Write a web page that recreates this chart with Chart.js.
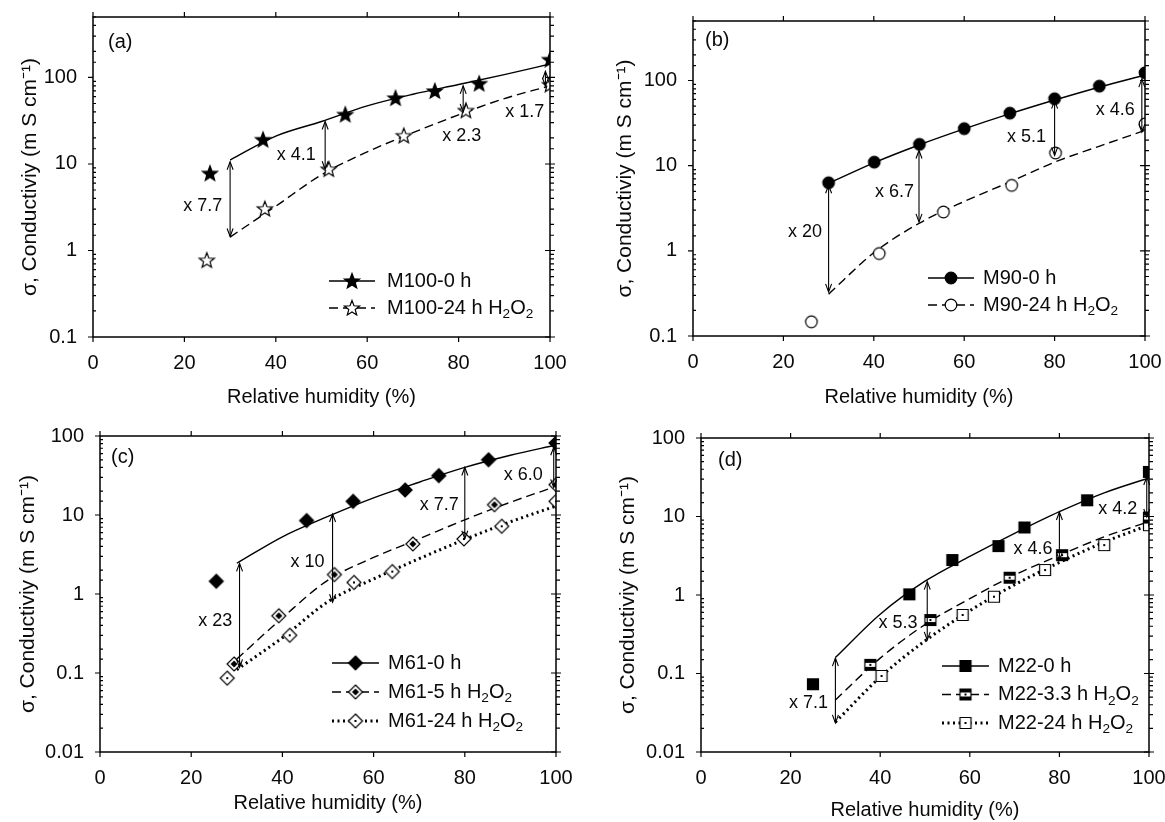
<!DOCTYPE html>
<html>
<head>
<meta charset="utf-8">
<script src="https://cdn.jsdelivr.net/npm/chart.js@4.4.0/dist/chart.umd.min.js"></script>
<style>
  body { margin: 0; background: #fff; width: 1165px; height: 822px; position: relative; overflow: hidden; }
  canvas { position: absolute; }
</style>
</head>
<body>
<canvas id="ca" width="582" height="411" style="left:0;top:0"></canvas>
<canvas id="cb" width="583" height="411" style="left:582px;top:0"></canvas>
<canvas id="cc" width="582" height="411" style="left:0;top:411px"></canvas>
<canvas id="cd" width="583" height="411" style="left:582px;top:411px"></canvas>
<script>
const FONT = '"Liberation Sans", Arial, sans-serif';
Chart.defaults.font.family = FONT;
Chart.defaults.color = '#0a0a0a';

// fitted curves are sampled at these humidities
const fitRH = [30, 40, 50, 60, 70, 80, 90, 100];

// ---- panel (a) ----
const labelsA = ['M100-0 h', 'M100-24 h H₂O₂'];
const rhA0 = [25.6, 37.2, 55.2, 66.2, 74.8, 84.5, 100];
const sigA0 = [7.8, 19.1, 37.3, 57.8, 69.7, 84.9, 161];
const rhA24 = [24.9, 37.6, 51.6, 68.0, 81.6, 100];
const sigA24 = [0.77, 3.03, 8.7, 21.2, 41.5, 82.6];
const fitA0 = [11.1, 21, 31, 47, 64, 83, 108, 143];
const fitA24 = [1.43, 3.25, 7.5, 13.8, 23, 37, 57, 80];
const arrowXA = [30, 50.8, 81, 99];
const arrowTopA = [10.6, 31, 80, 118];
const arrowBotA = [1.45, 8.7, 40, 80];
const ratioA = ['x 7.7', 'x 4.1', 'x 2.3', 'x 1.7'];
const ratioXA = [24.0, 44.5, 80.7, 94.5];
const ratioYA = [3.25, 12.6, 21.2, 39.7];

// ---- panel (b) ----
const labelsB = ['M90-0 h', 'M90-24 h H₂O₂'];
const rhB0 = [30, 40.1, 50.1, 60, 70.1, 80, 89.9, 100];
const sigB0 = [6.3, 11.0, 17.8, 27.2, 41.4, 61, 85.9, 123];
const rhB24 = [26.2, 41.2, 55.4, 70.5, 80.2, 100];
const sigB24 = [0.147, 0.93, 2.86, 5.88, 14.1, 31];
const fitB0 = [6.2, 10.8, 17.5, 27, 40.5, 59, 84, 116];
const fitB24 = [0.31, 0.95, 2.1, 3.8, 6.4, 11, 17, 26];
const arrowXB = [30, 50, 80, 99.3];
const arrowTopB = [5.9, 15.1, 58, 104];
const arrowBotB = [0.33, 2.19, 13.2, 24.8];
const ratioB = ['x 20', 'x 6.7', 'x 5.1', 'x 4.6'];
const ratioXB = [24.8, 44.6, 73.8, 93.4];
const ratioYB = [1.67, 4.9, 21.7, 44.5];

// ---- panel (c) ----
const labelsC = ['M61-0 h', 'M61-5 h H₂O₂', 'M61-24 h H₂O₂'];
const rhC0 = [25.5, 45.3, 55.5, 66.9, 74.3, 85.2, 100];
const sigC0 = [1.45, 8.5, 14.9, 20.7, 31.5, 50, 81.5];
const rhC5 = [29.4, 39.2, 51.4, 68.6, 86.5, 100];
const sigC5 = [0.13, 0.53, 1.76, 4.3, 13.5, 24.2];
const rhC24 = [27.9, 41.6, 55.7, 64.1, 79.8, 88.1, 100];
const sigC24 = [0.086, 0.30, 1.4, 1.92, 4.97, 7.2, 14.9];
const fitC0 = [2.45, 5.3, 9.6, 16.5, 26, 40, 57, 77];
const fitC5 = [0.15, 0.5, 1.5, 2.9, 5.0, 8.7, 14.5, 23];
const fitC24 = [0.11, 0.28, 0.8, 1.55, 2.8, 4.9, 8.2, 13];
const arrowXC = [30.6, 51, 80, 99.5];
const arrowTopC = [2.44, 10.3, 40, 72];
const arrowBotC = [0.118, 0.785, 5.0, 22.4];
const ratioC = ['x 23', 'x 10', 'x 7.7', 'x 6.0'];
const ratioXC = [25.3, 45.5, 74.4, 92.8];
const ratioYC = [0.46, 2.52, 13.4, 32];

// ---- panel (d) ----
const labelsD = ['M22-0 h', 'M22-3.3 h H₂O₂', 'M22-24 h H₂O₂'];
const rhD0 = [25.0, 46.5, 56.1, 66.4, 72.2, 86.2, 100];
const sigD0 = [0.073, 1.02, 2.79, 4.2, 7.25, 16.1, 37];
const rhD3 = [37.8, 51.2, 68.9, 80.6, 100];
const sigD3 = [0.129, 0.48, 1.66, 3.22, 9.7];
const rhD24 = [40.3, 58.4, 65.4, 76.8, 90.0, 100];
const sigD24 = [0.093, 0.557, 0.95, 2.08, 4.32, 7.76];
const fitD0 = [0.16, 0.57, 1.5, 3.1, 6.1, 11.5, 20, 31];
const fitD3 = [0.046, 0.157, 0.42, 0.9, 1.8, 3.2, 5.5, 8.6];
const fitD24 = [0.024, 0.09, 0.26, 0.63, 1.35, 2.6, 4.7, 7.8];
const arrowXD = [30, 50.5, 80, 99.5];
const arrowTopD = [0.157, 1.48, 11.4, 31.8];
const arrowBotD = [0.0235, 0.268, 2.78, 9.87];
const ratioD = ['x 7.1', 'x 5.3', 'x 4.6', 'x 4.2'];
const ratioXD = [24, 44, 74.1, 93];
const ratioYD = [0.042, 0.445, 3.9, 12.6];

// marker sprites
function marker(kind) {
  const c = document.createElement('canvas');
  c.width = c.height = 20;
  const g = c.getContext('2d');
  g.strokeStyle = '#000';
  g.lineWidth = 1.2;
  g.beginPath();
  if (kind.startsWith('star')) {
    for (let i = 0; i < 10; i++) {
      const r = i % 2 ? 3.4 : 8;
      const a = -Math.PI / 2 + i * Math.PI / 5;
      g.lineTo(10 + r * Math.cos(a), 10.5 + r * Math.sin(a));
    }
    g.closePath();
  } else if (kind.startsWith('circle')) {
    g.arc(10, 10, 5.8, 0, Math.PI * 2);
  } else if (kind.startsWith('diamond')) {
    g.moveTo(10, 3); g.lineTo(17, 10); g.lineTo(10, 17); g.lineTo(3, 10); g.closePath();
  } else {
    g.rect(4.5, 4.5, 11, 11);
  }
  g.fillStyle = kind.endsWith('Fill') ? '#000' : '#fff';
  g.fill();
  g.stroke();
  g.fillStyle = '#000';
  if (kind === 'diamondHalf') {
    g.beginPath(); g.moveTo(10, 6.5); g.lineTo(13.5, 10); g.lineTo(10, 13.5); g.lineTo(6.5, 10); g.closePath(); g.fill();
  } else if (kind === 'squareHalf') {
    g.fillRect(4.5, 4.5, 11, 3.5); g.fillRect(4.5, 12, 11, 3.5); g.fillRect(9, 9, 2, 2);
  } else if (kind === 'diamondOpen' || kind === 'squareOpen') {
    g.fillRect(9, 9, 2, 2);
  }
  return c;
}

const SOLID = [], DASH = [9, 5], DOT = [2, 3.5];

function richText(ctx, s, x, y, size) {
  let cx = x;
  for (const part of s.split(/(₂)/)) {
    if (!part) continue;
    if (part === '₂') {
      ctx.font = (size * 0.68) + 'px ' + FONT;
      ctx.fillText('2', cx, y + size * 0.32);
      cx += ctx.measureText('2').width;
    } else {
      ctx.font = size + 'px ' + FONT;
      ctx.fillText(part, cx, y);
      cx += ctx.measureText(part).width;
    }
  }
}

function drawArrowHead(ctx, x, y, dir) {
  ctx.beginPath();
  ctx.moveTo(x - 3, y + dir * 8);
  ctx.lineTo(x, y);
  ctx.lineTo(x + 3, y + dir * 8);
  ctx.stroke();
}

const decoPlugin = {
  id: 'deco',
  afterDraw(chart) {
    const d = chart.options.plugins.deco;
    const ctx = chart.ctx;
    const xs = chart.scales.x, ys = chart.scales.y;
    const a = chart.chartArea;
    ctx.save();
    ctx.strokeStyle = '#000';
    ctx.fillStyle = '#0a0a0a';

    // frame and tick marks
    ctx.lineWidth = 1.5;
    ctx.strokeRect(a.left, a.top, a.right - a.left, a.bottom - a.top);
    ctx.lineWidth = 1.2;
    ctx.beginPath();
    for (const t of xs.ticks) {
      const px = xs.getPixelForValue(t.value);
      ctx.moveTo(px, a.bottom); ctx.lineTo(px, a.bottom + 5);
      ctx.moveTo(px, a.top); ctx.lineTo(px, a.top - 5);
    }
    for (const t of ys.ticks) {
      const py = ys.getPixelForValue(t.value);
      const lg = Math.log10(t.value);
      if (Math.abs(lg - Math.round(lg)) < 1e-6) {
        ctx.moveTo(a.left - 5, py); ctx.lineTo(a.left, py);
        ctx.moveTo(a.right - 5, py); ctx.lineTo(a.right + 5, py);
      } else {
        ctx.moveTo(a.left, py); ctx.lineTo(a.left + 3, py);
        ctx.moveTo(a.right, py); ctx.lineTo(a.right + 4, py);
      }
    }
    ctx.stroke();

    // ratio arrows
    ctx.lineWidth = 1.1;
    d.arrowX.forEach((v, i) => {
      const px = xs.getPixelForValue(v);
      const pt = ys.getPixelForValue(d.arrowTop[i]);
      const pb = ys.getPixelForValue(d.arrowBot[i]);
      ctx.beginPath(); ctx.moveTo(px, pt); ctx.lineTo(px, pb); ctx.stroke();
      drawArrowHead(ctx, px, pt, 1);
      drawArrowHead(ctx, px, pb, -1);
    });
    ctx.font = '18px ' + FONT;
    ctx.textAlign = 'center';
    ctx.textBaseline = 'middle';
    d.ratio.forEach((s, i) => {
      ctx.fillText(s, xs.getPixelForValue(d.ratioX[i]), ys.getPixelForValue(d.ratioY[i]));
    });

    // panel tag
    ctx.textAlign = 'left';
    ctx.font = '20px ' + FONT;
    ctx.fillText(d.tag, d.tagPos[0], d.tagPos[1]);

    // legend
    const L = d.legend;
    d.labels.forEach((s, i) => {
      const ds = chart.data.datasets[i * 2];
      const y = L.y + i * L.dy;
      ctx.lineWidth = ds.borderWidth;
      ctx.setLineDash(ds.borderDash);
      ctx.beginPath(); ctx.moveTo(L.x0, y); ctx.lineTo(L.x1, y); ctx.stroke();
      ctx.setLineDash([]);
      const m = chart.data.datasets[i * 2 + 1].pointStyle;
      ctx.drawImage(m, (L.x0 + L.x1) / 2 - m.width / 2, y - m.height / 2);
      richText(ctx, s, L.tx, y, 20);
    });
    ctx.restore();
  }
};

function yTick(v) {
  const lg = Math.log10(v);
  const r = Math.round(lg);
  if (Math.abs(lg - r) > 1e-6) return '';
  return r < 0 ? Math.pow(10, r).toFixed(-r) : String(Math.pow(10, r));
}

// the frame is placed by layout padding alone, so drop the label overhang padding
function noOverhang(s) {
  s.paddingLeft = 0; s.paddingRight = 0; s.paddingTop = 0; s.paddingBottom = 0;
}

function makePanel(id, p) {
  const datasets = [];
  p.series.forEach(s => {
    datasets.push({
      data: fitRH.map((x, i) => ({ x, y: s.fit[i] })),
      showLine: true, pointRadius: 0, borderColor: '#000',
      borderWidth: s.dash === DOT ? 3 : 1.4, borderDash: s.dash,
      cubicInterpolationMode: 'monotone', order: 2
    });
    datasets.push({
      data: s.rh.map((x, i) => ({ x, y: s.sig[i] })),
      showLine: false, pointStyle: marker(s.marker), pointRadius: 7, order: 1
    });
  });
  return new Chart(document.getElementById(id), {
    type: 'scatter',
    data: { datasets },
    plugins: [decoPlugin],
    options: {
      responsive: false,
      animation: false,
      layout: { padding: { top: p.pad[0], right: p.pad[1], bottom: 0, left: 0 } },
      plugins: {
        legend: { display: false },
        tooltip: { enabled: false },
        deco: p.deco
      },
      scales: {
        x: {
          type: 'linear', min: 0, max: 100,
          grid: { display: false, drawTicks: false },
          border: { display: false },
          ticks: { stepSize: 20, padding: 14, maxRotation: 0, font: { size: 20 } },
          title: { display: true, text: 'Relative humidity (%)', font: { size: 20 }, padding: { top: 0, bottom: p.xTitlePad } },
          afterFit: s => { s.height = p.xH; noOverhang(s); }
        },
        y: {
          type: 'logarithmic', min: p.yMin, max: p.yMax,
          grid: { display: false, drawTicks: false },
          border: { display: false },
          ticks: { autoSkip: false, padding: 16, font: { size: 20 }, callback: yTick },
          title: { display: true, text: 'σ, Conductiviy (m S cm⁻¹)', font: { size: 21 }, padding: { top: p.yTitlePad, bottom: 0 } },
          afterFit: s => { s.width = p.yW; noOverhang(s); }
        }
      }
    }
  });
}

makePanel('ca', {
  pad: [17, 32], xH: 74, yW: 93, xTitlePad: 2, yTitlePad: 18, yMin: 0.1, yMax: 500,
  series: [
    { rh: rhA0, sig: sigA0, fit: fitA0, dash: SOLID, marker: 'starFill' },
    { rh: rhA24, sig: sigA24, fit: fitA24, dash: DASH, marker: 'starOpen' }
  ],
  deco: {
    labels: labelsA, tag: '(a)', tagPos: [108, 42],
    legend: { x0: 329, x1: 375, tx: 387, y: 281, dy: 27 },
    arrowX: arrowXA, arrowTop: arrowTopA, arrowBot: arrowBotA,
    ratio: ratioA, ratioX: ratioXA, ratioY: ratioYA
  }
});

makePanel('cb', {
  pad: [21, 20], xH: 75, yW: 111, xTitlePad: 2, yTitlePad: 31, yMin: 0.1, yMax: 500,
  series: [
    { rh: rhB0, sig: sigB0, fit: fitB0, dash: SOLID, marker: 'circleFill' },
    { rh: rhB24, sig: sigB24, fit: fitB24, dash: DASH, marker: 'circleOpen' }
  ],
  deco: {
    labels: labelsB, tag: '(b)', tagPos: [123, 40],
    legend: { x0: 346, x1: 392, tx: 401, y: 278, dy: 27 },
    arrowX: arrowXB, arrowTop: arrowTopB, arrowBot: arrowBotB,
    ratio: ratioB, ratioX: ratioXB, ratioY: ratioYB
  }
});

makePanel('cc', {
  pad: [25, 26], xH: 70, yW: 100, xTitlePad: 7, yTitlePad: 16, yMin: 0.01, yMax: 100,
  series: [
    { rh: rhC0, sig: sigC0, fit: fitC0, dash: SOLID, marker: 'diamondFill' },
    { rh: rhC5, sig: sigC5, fit: fitC5, dash: DASH, marker: 'diamondHalf' },
    { rh: rhC24, sig: sigC24, fit: fitC24, dash: DOT, marker: 'diamondOpen' }
  ],
  deco: {
    labels: labelsC, tag: '(c)', tagPos: [111, 46],
    legend: { x0: 332, x1: 379, tx: 388, y: 252, dy: 29 },
    arrowX: arrowXC, arrowTop: arrowTopC, arrowBot: arrowBotC,
    ratio: ratioC, ratioX: ratioXC, ratioY: ratioYC
  }
});

makePanel('cd', {
  pad: [27, 16], xH: 70, yW: 119, xTitlePad: 0, yTitlePad: 34, yMin: 0.01, yMax: 100,
  series: [
    { rh: rhD0, sig: sigD0, fit: fitD0, dash: SOLID, marker: 'squareFill' },
    { rh: rhD3, sig: sigD3, fit: fitD3, dash: DASH, marker: 'squareHalf' },
    { rh: rhD24, sig: sigD24, fit: fitD24, dash: DOT, marker: 'squareOpen' }
  ],
  deco: {
    labels: labelsD, tag: '(d)', tagPos: [136, 49],
    legend: { x0: 360, x1: 407, tx: 416, y: 255, dy: 28.5 },
    arrowX: arrowXD, arrowTop: arrowTopD, arrowBot: arrowBotD,
    ratio: ratioD, ratioX: ratioXD, ratioY: ratioYD
  }
});
</script>
</body>
</html>
